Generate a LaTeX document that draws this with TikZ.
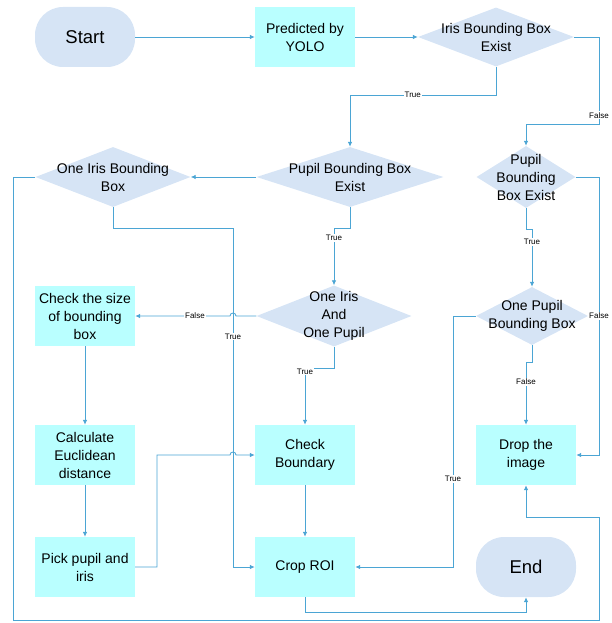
\documentclass[tikz,border=0pt]{standalone}
\usepackage{fontspec}
\setmainfont{Liberation Sans}
\usetikzlibrary{shapes.geometric,arrows.meta}
\definecolor{lineblue}{RGB}{75,165,212}
\definecolor{procfill}{RGB}{185,255,255}
\definecolor{termfill}{RGB}{214,228,245}
\begin{document}
\begin{tikzpicture}[x=1pt,y=-1pt,
 conn/.style={draw=lineblue, line width=0.85pt},
 arr/.style={conn, -{Latex[length=5pt,width=4.5pt]}},
 proc/.style={rectangle, fill=procfill, minimum width=100pt, minimum height=60pt, inner sep=0pt, align=center, font=\fontsize{14}{18}\selectfont},
 term/.style={rectangle, rounded corners=28pt, fill=termfill, minimum width=100pt, minimum height=60pt, font=\fontsize{18.5}{20}\selectfont},
 dia/.style={diamond, fill=termfill, inner sep=0pt},
 txt/.style={align=center, font=\fontsize{14}{18}\selectfont, inner sep=0pt},
 lbl/.style={fill=white, inner sep=1pt, font=\fontsize{8}{9}\selectfont},
]
\useasboundingbox (0,0) rectangle (612,623);

% terminals and processes
\node[term] (start) at (85,37) {Start};
\node[proc] (yolo) at (305,37) {Predicted by\\YOLO};
\node[proc] (chk) at (85,316) {Check the size\\of bounding\\box};
\node[proc] (calc) at (85,455) {Calculate\\Euclidean\\distance};
\node[proc] (pick) at (85,567) {Pick pupil and\\iris};
\node[proc] (cb) at (305,455) {Check\\Boundary};
\node[proc] (crop) at (305,567) {Crop ROI};
\node[proc] (drop) at (526,455) {Drop the\\image};
\node[term] (end) at (526,567) {End};

% decisions
\node[dia, minimum width=156pt, minimum height=59pt] (d1) at (496,37) {};
\node[txt] (d1t) at (d1) {Iris Bounding Box\\Exist};
\node[dia, minimum width=187pt, minimum height=60pt] (d2) at (350,177) {};
\node[txt] (d2t) at (d2) {Pupil Bounding Box\\Exist};
\node[dia, minimum width=155pt, minimum height=60pt] (d3) at (113,177) {};
\node[txt] (d3t) at (d3) {One Iris Bounding\\Box};
\node[dia, minimum width=99pt, minimum height=62pt] (d4) at (526,177) {};
\node[txt] (d4t) at (d4) {Pupil\\Bounding\\Box Exist};
\node[dia, minimum width=155pt, minimum height=61pt] (d5) at (334,316) {};
\node[txt] (d5t) at (d5) {One Iris\\And\\One Pupil};
\node[dia, minimum width=112pt, minimum height=58pt] (d6) at (532,316) {};
\node[txt] (d6t) at (d6) {One Pupil\\Bounding Box};

% connectors
\draw[arr] (start) -- (yolo);
\draw[arr] (yolo) -- (d1);
\draw[arr] (d1.south) -- (496,95) -- node[lbl,pos=0.57]{True} (350,95) -- (d2.north);
\draw[arr] (d1.east) -- (599,37) -- node[lbl,pos=0.9]{False} (599,124) -- (526,124) -- (d4.north);
\draw[arr] (d2) -- (d3);
\draw[arr] (d2.south) -- (350,228) -- (334,228) -- node[lbl,pos=0.17]{True} (d5.north);
\draw[arr] (d4.south) -- (526,229) -- (532,229) -- node[lbl,pos=0.22]{True} (d6.north);
\draw[arr] (d5.south) -- (334,368) -- (305,368) -- node[lbl,pos=0.06]{True} (cb.north);
\draw[arr] (d5.west) -- (236,316) arc[start angle=0,end angle=180,radius=3pt] -- node[lbl,pos=0.37]{False} (chk.east);
\draw[arr] (chk) -- (calc);
\draw[arr] (calc) -- (pick);
\draw[arr] (pick.east) -- (157,567) -- (157,455) -- (230,455) arc[start angle=180,end angle=0,radius=3pt] -- (cb.west);
\draw[arr] (d3.south) -- (113,228) -- (233,228) -- node[lbl,pos=0.32]{True} (233,567) -- (crop.west);
\draw[arr] (d6.south) -- (532,362) -- (526,362) -- node[lbl,pos=0.32]{False} (drop.north);
\draw[arr] (d6.west) -- (453,316) -- node[lbl,pos=0.65]{True} (453,567) -- (crop.east);
\draw[arr] (d4.east) -- (599,177) -- node[lbl,pos=0.5]{False} (599,455) -- (drop.east);
\draw[arr] (cb) -- (crop);
\draw[arr] (crop.south) -- (305,612) -- (526,612) -- (end.south);
\draw[arr] (d3.west) -- (13,177) -- (13,620) -- (599,620) -- (599,517) -- (526,517) -- (drop.south);
\end{tikzpicture}
\end{document}
